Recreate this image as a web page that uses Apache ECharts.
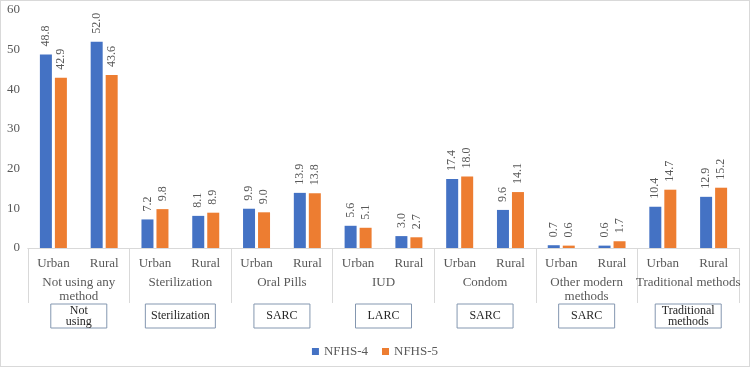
<!DOCTYPE html>
<html>
<head>
    <meta charset="utf-8" />
    <title>NFHS-4 vs NFHS-5</title>
    <style type="text/css">
        * { margin: 0; padding: 0; }
        html, body { width: 750px; height: 367px; background: #fff; }
        #main { width: 750px; height: 367px; box-sizing: border-box; border: 1px solid #d9d9d9; }
    </style>
</head>
<body>
<div id="main"></div>
<script type="text/javascript" src="https://cdn.jsdelivr.net/npm/echarts@6/dist/echarts.min.js"></script>
<script type="text/javascript">
    // data
    const places = ['Urban', 'Rural', 'Urban', 'Rural', 'Urban', 'Rural', 'Urban', 'Rural',
        'Urban', 'Rural', 'Urban', 'Rural', 'Urban', 'Rural'];
    const methods = ['Not using any\nmethod', 'Sterilization', 'Oral Pills', 'IUD', 'Condom',
        'Other modern\nmethods', 'Traditional methods'];
    const methodTypes = ['Not\nusing', 'Sterilization', 'SARC', 'LARC', 'SARC', 'SARC', 'Traditional\nmethods'];
    const nfhs4 = [48.8, 52.0, 7.2, 8.1, 9.9, 13.9, 5.6, 3.0, 17.4, 9.6, 0.7, 0.6, 10.4, 12.9];
    const nfhs5 = [42.9, 43.6, 9.8, 8.9, 9.0, 13.8, 5.1, 2.7, 18.0, 14.1, 0.6, 1.7, 14.7, 15.2];

    const FONT = "'Liberation Serif', 'Times New Roman', serif";
    const GRAY = '#595959';
    const LINE = '#d9d9d9';

    const chart = echarts.init(document.getElementById('main'));

    const barLabel = {
        show: true,
        position: 'top',
        rotate: 90,
        align: 'left',
        verticalAlign: 'middle',
        distance: 8,
        color: GRAY,
        fontFamily: FONT,
        fontSize: 12,
        formatter: p => p.value.toFixed(1)
    };

    // pick a rich style for each boxed label (one or two lines, narrow or wide box)
    const boxText = (txt) => {
        const two = txt.indexOf('\n') >= 0;
        const wide = txt.length > 10;
        const key = (two ? 't' : 's') + (wide ? 'w' : '');
        return txt.split('\n').map(l => '{' + key + '|' + l + '}').join('\n');
    };
    const boxFont = { fontFamily: FONT, fontSize: 12, color: '#262626', align: 'center' };

    chart.setOption({
        animation: false,
        textStyle: { fontFamily: FONT },
        grid: { left: 27, right: 10, top: 9, bottom: 118 },
        legend: {
            bottom: 3,
            icon: 'rect',
            itemWidth: 7,
            itemHeight: 7,
            itemGap: 14,
            textStyle: { color: GRAY, fontFamily: FONT, fontSize: 13 },
            data: ['NFHS-4', 'NFHS-5']
        },
        xAxis: [{
            type: 'category',
            data: places,
            axisLine: { lineStyle: { color: LINE } },
            axisTick: { show: false },
            axisLabel: { interval: 0, margin: 9, color: GRAY, fontFamily: FONT, fontSize: 13 }
        }, {
            type: 'category',
            data: methods,
            position: 'bottom',
            axisLine: { lineStyle: { color: LINE } },
            axisTick: { show: true, length: 55, lineStyle: { color: LINE } },
            axisLabel: { interval: 0, margin: 28, color: GRAY, fontFamily: FONT, fontSize: 13, lineHeight: 14 }
        }, {
            type: 'category',
            data: methodTypes,
            position: 'bottom',
            axisLine: { show: false },
            axisTick: { show: false },
            axisLabel: {
                interval: 0,
                margin: 56,
                padding: [1, 4],
                borderColor: '#8497b0',
                borderWidth: 1,
                formatter: boxText,
                rich: {
                    s: Object.assign({ width: 48, lineHeight: 22 }, boxFont),
                    sw: Object.assign({ width: 62, lineHeight: 22 }, boxFont),
                    t: Object.assign({ width: 48, lineHeight: 11 }, boxFont),
                    tw: Object.assign({ width: 58, lineHeight: 11 }, boxFont)
                }
            }
        }],
        yAxis: {
            type: 'value',
            min: 0,
            max: 60,
            interval: 10,
            axisLine: { show: false },
            axisTick: { show: false },
            splitLine: { show: false },
            axisLabel: { margin: 8, color: GRAY, fontFamily: FONT, fontSize: 13 }
        },
        series: [{
            name: 'NFHS-4',
            type: 'bar',
            data: nfhs4,
            barWidth: 12,
            barGap: '25%',
            itemStyle: { color: '#4472c4' },
            label: barLabel
        }, {
            name: 'NFHS-5',
            type: 'bar',
            data: nfhs5,
            barWidth: 12,
            barGap: '25%',
            itemStyle: { color: '#ed7d31' },
            label: barLabel
        }]
    });
</script>
</body>
</html>
